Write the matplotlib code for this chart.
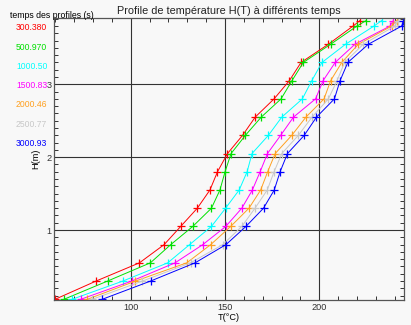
import matplotlib
matplotlib.use("Agg")
import matplotlib.pyplot as plt
from matplotlib.ticker import MultipleLocator

# hauteurs des points de mesure (m)
hauteurs = [0.05, 0.30, 0.55, 0.80, 1.05, 1.30, 1.55, 1.80, 2.05,
            2.30, 2.55, 2.80, 3.05, 3.30, 3.55, 3.80, 3.875]

# temps des profils (s)
temps = ["300.380", "500.970", "1000.50", "1500.83", "2000.46", "2500.77", "3000.93"]
couleurs = ["#ff0000", "#00e000", "#00ffff", "#ff00ff", "#ffa020", "#c8c8c8", "#0000ff"]

# températures (°C) pour chaque profil
T_300 = [59.9, 81.6, 104.6, 117.7, 126.5, 135.3, 142.0, 146.0, 151.3,
         159.3, 166.0, 176.0, 184.1, 190.3, 204.8, 217.9, 221.6]
T_500 = [64.6, 87.7, 110.4, 121.2, 132.9, 142.8, 147.3, 150.0, 153.2,
         160.8, 169.2, 179.7, 185.5, 191.5, 206.0, 220.0, 224.8]
T_1000 = [68.9, 95.8, 119.6, 131.2, 142.8, 150.3, 157.5, 161.7, 164.3,
          173.0, 180.1, 191.0, 196.0, 201.4, 213.9, 229.0, 233.1]
T_1500 = [73.5, 100.5, 123.5, 138.2, 150.4, 158.9, 164.5, 168.6, 172.5,
          179.5, 186.3, 198.0, 202.0, 208.4, 218.9, 237.5, 239.2]
T_2000 = [77.0, 102.5, 129.7, 142.4, 153.0, 162.7, 168.9, 172.6, 176.6,
          185.4, 192.9, 202.5, 206.0, 211.9, 220.7, 238.4, 241.0]
T_2500 = [79.6, 106.2, 131.7, 148.8, 158.9, 165.9, 172.4, 176.0, 180.1,
          188.9, 196.1, 204.8, 209.4, 213.4, 223.3, 240.1, 241.9]
T_3000 = [84.9, 110.5, 134.1, 150.5, 161.1, 170.4, 176.1, 179.2, 183.1,
          192.0, 198.5, 208.0, 211.0, 215.1, 226.0, 243.7, 244.6]
profils = [T_300, T_500, T_1000, T_1500, T_2000, T_2500, T_3000]

fond = "#f8f8f8"
plt.rcParams["font.family"] = ["Liberation Sans", "DejaVu Sans"]

fig = plt.figure(figsize=(4.11, 3.25), dpi=100, facecolor=fond)
ax = fig.add_axes([0.1314, 0.0769, 0.852, 0.8677], facecolor=fond)

for T, c in zip(profils, couleurs):
    ax.plot(T, hauteurs, color=c, lw=0.7, marker="+", ms=5.5, mew=0.9)

ax.set_xlim(59.3, 245)
ax.set_ylim(0.04, 3.91)
ax.xaxis.set_major_locator(MultipleLocator(50))
ax.xaxis.set_minor_locator(MultipleLocator(10))
ax.yaxis.set_major_locator(MultipleLocator(1))
ax.yaxis.set_minor_locator(MultipleLocator(0.1))
ax.tick_params(which="both", direction="in", top=True, right=True,
               labelsize=6.6, colors="#333333", width=0.7, pad=2)
ax.tick_params(which="major", length=5)
ax.tick_params(which="minor", length=3)
ax.grid(True, which="major", color="#333333", lw=0.8)
ax.set_axisbelow(True)
for s in ax.spines.values():
    s.set_color("#555555")
    s.set_linewidth(0.9)

ax.set_xlabel("T(°C)", fontsize=6.6, labelpad=1)
ax.set_ylabel("H(m)", fontsize=6.6, labelpad=4)
ax.set_title("Profile de température H(T) à différents temps", fontsize=7.8,
             pad=3, color="#222222")

# légende des temps à gauche
fig.text(10 / 411, 1 - 15 / 325, "temps des profiles (s)", fontsize=6.3,
         va="center", ha="left")
for i, (lab, c) in enumerate(zip(temps, couleurs)):
    y = 28 + i * 19.2
    fig.text(16 / 411, 1 - y / 325, lab, fontsize=6.2, color=c,
             va="center", ha="left")

fig.savefig("out.png", dpi=100, facecolor=fond)
